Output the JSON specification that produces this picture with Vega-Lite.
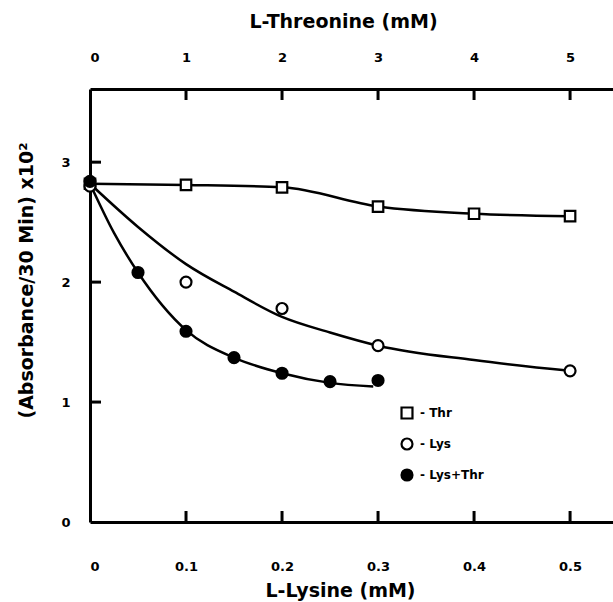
{
  "$schema": "https://vega.github.io/schema/vega-lite/v6.json",
  "width": 530,
  "height": 433,
  "autosize": {"type": "none"},
  "padding": {"left": 90, "top": 89, "right": 0, "bottom": 80},
  "background": "white",
  "config": {
    "view": {"stroke": null},
    "font": "DejaVu Sans",
    "axis": {
      "domainColor": "black",
      "domainWidth": 3,
      "ticks": false,
      "grid": false,
      "labelColor": "black",
      "labelFont": "DejaVu Sans",
      "labelFontWeight": "bold",
      "labelFontSize": 13,
      "titleColor": "black",
      "titleFont": "DejaVu Sans",
      "titleFontWeight": "bold",
      "titleFontSize": 19
    }
  },
  "datasets": {
    "threonine": [
      {"thr_mM": 0, "absorbance": 2.82, "group": "Thr"},
      {"thr_mM": 1, "absorbance": 2.81, "group": "Thr"},
      {"thr_mM": 2, "absorbance": 2.79, "group": "Thr"},
      {"thr_mM": 3, "absorbance": 2.63, "group": "Thr"},
      {"thr_mM": 4, "absorbance": 2.57, "group": "Thr"},
      {"thr_mM": 5, "absorbance": 2.55, "group": "Thr"}
    ],
    "lysine": [
      {"lys_mM": 0, "absorbance": 2.80, "group": "Lys"},
      {"lys_mM": 0.1, "absorbance": 2.00, "group": "Lys"},
      {"lys_mM": 0.2, "absorbance": 1.78, "group": "Lys"},
      {"lys_mM": 0.3, "absorbance": 1.47, "group": "Lys"},
      {"lys_mM": 0.5, "absorbance": 1.26, "group": "Lys"},
      {"lys_mM": 0, "absorbance": 2.84, "group": "Lys+Thr"},
      {"lys_mM": 0.05, "absorbance": 2.08, "group": "Lys+Thr"},
      {"lys_mM": 0.1, "absorbance": 1.59, "group": "Lys+Thr"},
      {"lys_mM": 0.15, "absorbance": 1.37, "group": "Lys+Thr"},
      {"lys_mM": 0.2, "absorbance": 1.24, "group": "Lys+Thr"},
      {"lys_mM": 0.25, "absorbance": 1.17, "group": "Lys+Thr"},
      {"lys_mM": 0.3, "absorbance": 1.18, "group": "Lys+Thr"}
    ],
    "fitted_curves": [
      {"lys_mM": 0, "absorbance": 2.82, "curve": "Lys"},
      {"lys_mM": 0.05, "absorbance": 2.46, "curve": "Lys"},
      {"lys_mM": 0.1, "absorbance": 2.15, "curve": "Lys"},
      {"lys_mM": 0.15, "absorbance": 1.92, "curve": "Lys"},
      {"lys_mM": 0.2, "absorbance": 1.71, "curve": "Lys"},
      {"lys_mM": 0.25, "absorbance": 1.58, "curve": "Lys"},
      {"lys_mM": 0.3, "absorbance": 1.47, "curve": "Lys"},
      {"lys_mM": 0.4, "absorbance": 1.35, "curve": "Lys"},
      {"lys_mM": 0.5, "absorbance": 1.26, "curve": "Lys"},
      {"lys_mM": 0, "absorbance": 2.82, "curve": "Lys+Thr"},
      {"lys_mM": 0.025, "absorbance": 2.41, "curve": "Lys+Thr"},
      {"lys_mM": 0.05, "absorbance": 2.08, "curve": "Lys+Thr"},
      {"lys_mM": 0.1, "absorbance": 1.60, "curve": "Lys+Thr"},
      {"lys_mM": 0.15, "absorbance": 1.37, "curve": "Lys+Thr"},
      {"lys_mM": 0.2, "absorbance": 1.24, "curve": "Lys+Thr"},
      {"lys_mM": 0.25, "absorbance": 1.16, "curve": "Lys+Thr"},
      {"lys_mM": 0.295, "absorbance": 1.13, "curve": "Lys+Thr"}
    ],
    "threonine_ticks": [
      {"thr_mM": 1}, {"thr_mM": 2}, {"thr_mM": 3}, {"thr_mM": 4}, {"thr_mM": 5}
    ],
    "lysine_ticks": [
      {"lys_mM": 0.1}, {"lys_mM": 0.2}, {"lys_mM": 0.3}, {"lys_mM": 0.4}, {"lys_mM": 0.5}
    ],
    "absorbance_ticks": [
      {"absorbance": 1}, {"absorbance": 2}, {"absorbance": 3}
    ]
  },
  "layer": [
    {
      "layer": [
        {
          "data": {"name": "threonine"},
          "mark": {"type": "line", "interpolate": "monotone", "color": "black", "strokeWidth": 2.5},
          "encoding": {
            "x": {
              "field": "thr_mM",
              "type": "quantitative",
              "scale": {"domain": [0, 5.52], "nice": false, "zero": false},
              "axis": {
                "orient": "top",
                "values": [0, 1, 2, 3, 4, 5],
                "format": "d",
                "labelPadding": 25,
                "title": "L-Threonine (mM)",
                "titlePadding": 20,
                "titleX": 253
              }
            },
            "y": {
              "field": "absorbance",
              "type": "quantitative",
              "scale": {"domain": [0, 3.61], "nice": false, "zero": false},
              "axis": null
            }
          }
        },
        {
          "data": {"name": "threonine"},
          "mark": {"type": "point", "filled": false, "stroke": "black", "strokeWidth": 2.2, "size": 110, "opacity": 1},
          "encoding": {
            "x": {"field": "thr_mM", "type": "quantitative"},
            "y": {"field": "absorbance", "type": "quantitative", "axis": null},
            "shape": {"field": "group", "type": "nominal", "scale": {"domain": ["Thr", "Lys", "Lys+Thr"], "range": ["square", "circle", "circle"]}},
            "fill": {"field": "group", "type": "nominal", "scale": {"domain": ["Thr", "Lys", "Lys+Thr"], "range": ["white", "white", "black"]}}
          }
        },
        {
          "data": {"name": "threonine_ticks"},
          "mark": {"type": "tick", "orient": "vertical", "size": 11, "thickness": 3, "color": "black", "opacity": 1, "yOffset": 5.5},
          "encoding": {
            "x": {"field": "thr_mM", "type": "quantitative"},
            "y": {"datum": 3.61, "type": "quantitative", "axis": null}
          }
        }
      ]
    },
    {
      "layer": [
        {
          "data": {"name": "fitted_curves"},
          "mark": {"type": "line", "interpolate": "monotone", "color": "black", "strokeWidth": 2.5},
          "encoding": {
            "x": {
              "field": "lys_mM",
              "type": "quantitative",
              "scale": {"domain": [0, 0.552], "nice": false, "zero": false},
              "axis": {
                "orient": "bottom",
                "values": [0, 0.1, 0.2, 0.3, 0.4, 0.5],
                "labelExpr": "datum.value === 0 ? '0' : format(datum.value, '.1f')",
                "labelPadding": 38,
                "title": "L-Lysine (mM)",
                "titlePadding": 8,
                "titleX": 250
              }
            },
            "y": {
              "field": "absorbance",
              "type": "quantitative",
              "axis": {
                "orient": "left",
                "values": [0, 1, 2, 3],
                "format": "d",
                "labelPadding": 20,
                "title": "(Absorbance/30 Min) x10²",
                "titlePadding": 24,
                "titleY": 191
              }
            },
            "detail": {"field": "curve", "type": "nominal"}
          }
        },
        {
          "data": {"name": "lysine"},
          "mark": {"type": "point", "stroke": "black", "strokeWidth": 2.2, "size": 120, "opacity": 1},
          "encoding": {
            "x": {"field": "lys_mM", "type": "quantitative"},
            "y": {"field": "absorbance", "type": "quantitative"},
            "shape": {
              "field": "group",
              "type": "nominal",
              "scale": {"domain": ["Thr", "Lys", "Lys+Thr"], "range": ["square", "circle", "circle"]},
              "legend": {
                "title": null,
                "orient": "none",
                "legendX": 310,
                "legendY": 317,
                "direction": "vertical",
                "symbolSize": 120,
                "symbolStrokeWidth": 2.2,
                "symbolStrokeColor": "black",
                "rowPadding": 11,
                "labelFont": "DejaVu Sans",
                "labelFontWeight": "bold",
                "labelFontSize": 12,
                "labelColor": "black",
                "labelOffset": 6,
                "labelExpr": "'-  ' + datum.label",
                "values": ["Thr", "Lys", "Lys+Thr"]
              }
            },
            "fill": {
              "field": "group",
              "type": "nominal",
              "scale": {"domain": ["Thr", "Lys", "Lys+Thr"], "range": ["white", "white", "black"]},
              "legend": {
                "title": null,
                "orient": "none",
                "legendX": 310,
                "legendY": 317,
                "direction": "vertical",
                "symbolSize": 120,
                "symbolStrokeWidth": 2.2,
                "symbolStrokeColor": "black",
                "rowPadding": 11,
                "labelFont": "DejaVu Sans",
                "labelFontWeight": "bold",
                "labelFontSize": 12,
                "labelColor": "black",
                "labelOffset": 6,
                "labelExpr": "'-  ' + datum.label",
                "values": ["Thr", "Lys", "Lys+Thr"]
              }
            }
          }
        },
        {
          "data": {"name": "lysine_ticks"},
          "mark": {"type": "tick", "orient": "vertical", "size": 11, "thickness": 3, "color": "black", "opacity": 1, "yOffset": -5.5},
          "encoding": {
            "x": {"field": "lys_mM", "type": "quantitative"},
            "y": {"datum": 0, "type": "quantitative"}
          }
        },
        {
          "data": {"name": "absorbance_ticks"},
          "mark": {"type": "tick", "orient": "horizontal", "size": 11, "thickness": 3, "color": "black", "opacity": 1, "xOffset": 5.5},
          "encoding": {
            "x": {"datum": 0, "type": "quantitative"},
            "y": {"field": "absorbance", "type": "quantitative"}
          }
        }
      ]
    }
  ],
  "resolve": {"scale": {"x": "independent"}, "axis": {"x": "independent", "y": "independent"}}
}
